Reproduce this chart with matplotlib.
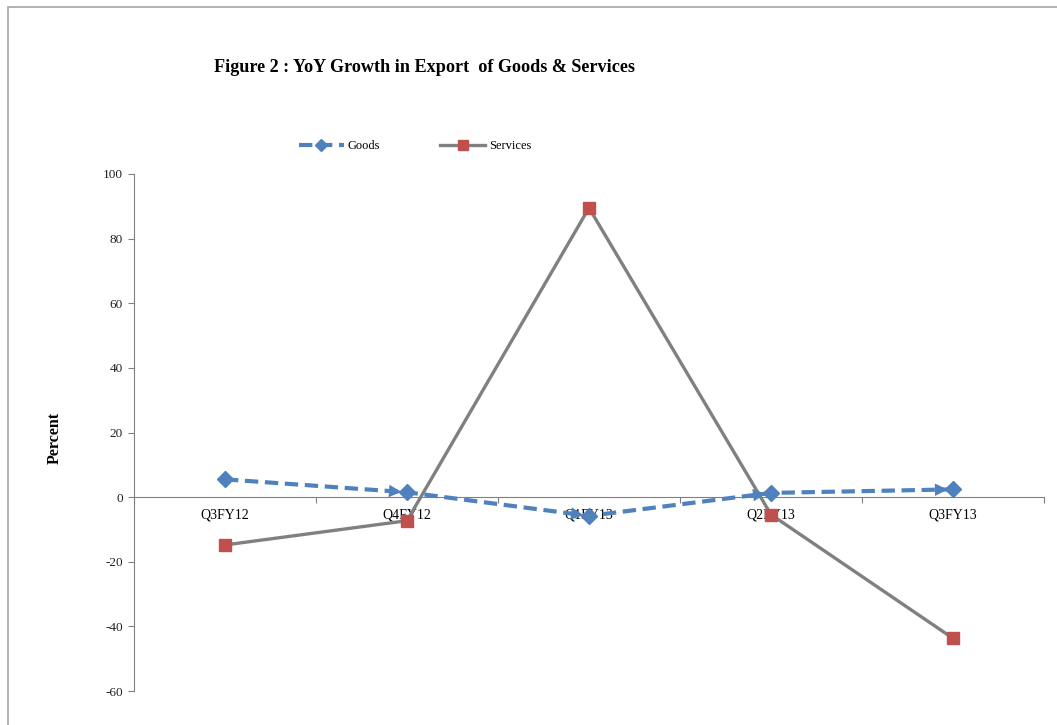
import matplotlib
matplotlib.use("Agg")
import matplotlib.pyplot as plt
from matplotlib.patches import Rectangle

categories = ["Q3FY12", "Q4FY12", "Q1FY13", "Q2FY13", "Q3FY13"]
goods = [5.5, 1.5, -5.8, 1.3, 2.4]
services = [-14.8, -7.3, 89.5, -5.4, -43.7]
yticks = [-60, -40, -20, 0, 20, 40, 60, 80, 100]

plt.rcParams['font.family'] = ['Liberation Serif', 'DejaVu Serif']

W, H = 1057, 725
fig = plt.figure(figsize=(W / 100, H / 100), dpi=100)
fig.patch.set_facecolor('white')

# outer chart border (gray), right/bottom run off the picture
fig.patches.append(Rectangle((8 / W, -0.05), 1.2, 1 - 7 / H + 0.05, transform=fig.transFigure,
                             fill=False, edgecolor='#A6A6A6', lw=1.2, zorder=0))

ax = fig.add_axes([134 / W, (H - 691) / H, 910 / W, 517 / H])
x = list(range(len(categories)))

gcol = '#4F81BD'
ax.plot(x, services, color='#808080', lw=2.4, marker='s', markersize=9,
        markerfacecolor='#C0504D', markeredgecolor='#C0504D', zorder=3, label='Services')
ax.plot(x, goods, color=gcol, lw=3, linestyle=(0, (3.2, 1.6)), marker='D', markersize=8,
        markerfacecolor=gcol, markeredgecolor=gcol, zorder=4, label='Goods')
for i in range(1, len(x)):
    ax.annotate('', xy=(x[i], goods[i]), xytext=(x[i - 1], goods[i - 1]),
                arrowprops=dict(arrowstyle='-|>,head_length=0.9,head_width=0.45',
                                color=gcol, lw=0, shrinkA=0, shrinkB=4), zorder=4)

ax.set_xlim(-0.5, len(categories) - 0.5)
ax.set_ylim(-60, 100)
ax.set_yticks(yticks)
ax.set_yticklabels([str(v) for v in yticks], fontsize=9.5, color='#222222')
ax.set_xticks([i - 0.5 for i in range(len(categories) + 1)])
ax.set_xticklabels([])
ax.set_xticks(x, minor=True)
ax.set_xticklabels(categories, minor=True, fontsize=9.5, color='#222222')
ax.tick_params(axis='x', which='minor', length=0, pad=8)
ax.tick_params(axis='x', which='major', length=4, color='#808080', direction='out')
ax.tick_params(axis='y', length=4, color='#808080', direction='out', pad=4)

for s in ['top', 'right']:
    ax.spines[s].set_visible(False)
ax.spines['left'].set_color('#808080')
ax.spines['bottom'].set_color('#808080')
ax.spines['bottom'].set_position(('data', 0))

ax.set_ylabel('Percent', fontsize=11.5, fontweight='bold')
ax.yaxis.set_label_coords(-0.078, 0.49)

fig.text(425 / W, 1 - 68 / H, 'Figure 2 : YoY Growth in Export  of Goods & Services',
         fontsize=13.1, fontweight='bold', ha='center', va='center')

h, l = ax.get_legend_handles_labels()
leg = fig.legend([h[1], h[0]], [l[1], l[0]], loc='center', bbox_to_anchor=(415 / W, 1 - 146 / H),
                 ncol=2, frameon=False, fontsize=9, handlelength=3.6, columnspacing=4.8,
                 handletextpad=0.3, markerscale=0.75)

fig.savefig('out.png', dpi=100, facecolor='white')
